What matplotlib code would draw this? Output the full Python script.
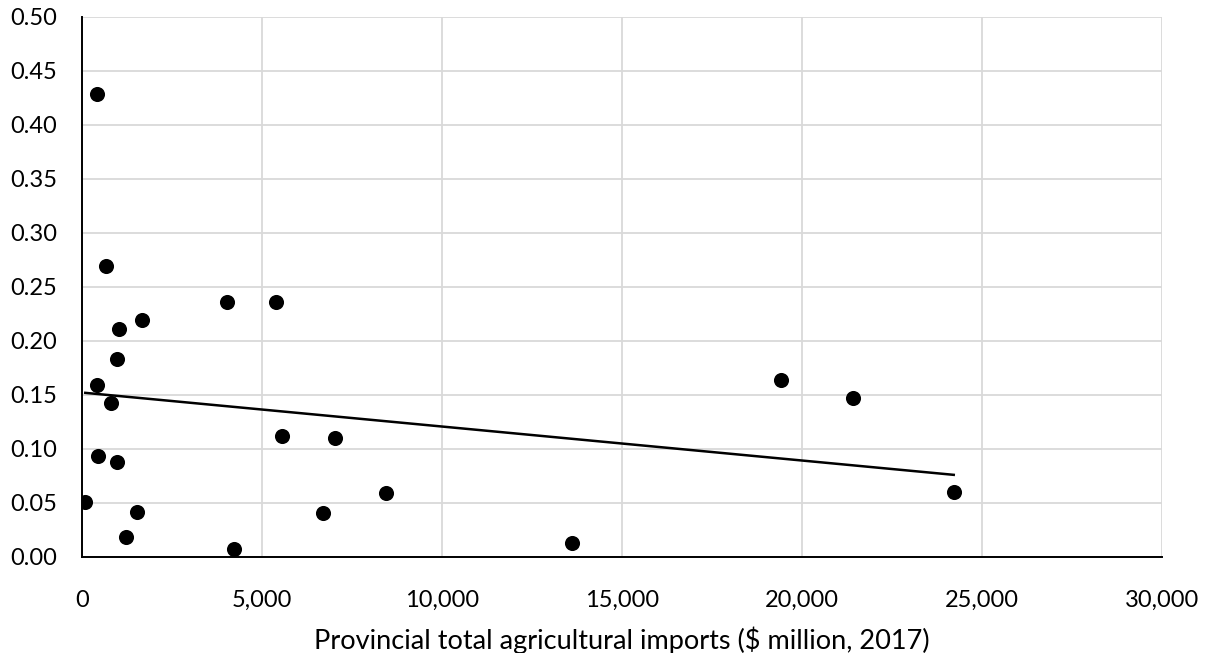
#!/usr/bin/env python3

import numpy as np
import matplotlib.pyplot as plt
from matplotlib.ticker import FuncFormatter, MultipleLocator

# values
imports = [400, 666, 1027, 1665, 963, 408, 788, 436, 964, 83, 1519, 1214,
           4023, 5375, 5556, 7011, 4222, 6686, 8436, 13603, 19408, 21397, 24206]
share = [0.428, 0.269, 0.211, 0.219, 0.183, 0.159, 0.142, 0.093, 0.088, 0.051,
         0.041, 0.018, 0.236, 0.236, 0.112, 0.110, 0.007, 0.040, 0.059, 0.013,
         0.164, 0.147, 0.060]
x_label = 'Provincial total agricultural imports ($ million, 2017)'

plt.rcParams['font.family'] = ['Lato', 'DejaVu Sans']

fig = plt.figure(figsize=(12.1, 6.53), dpi=100)
ax = fig.add_axes([0.068, 0.1475, 0.8926, 0.8269])

x = np.array(imports, dtype=float)
y = np.array(share, dtype=float)

# linear trendline over the data range, as the spreadsheet draws it
slope, intercept = np.polyfit(x, y, 1)
xs = np.array([x.min(), x.max()])
ax.plot(xs, slope * xs + intercept, color='black', lw=1.8, zorder=3)

ax.scatter(x, y, s=118, color='black', zorder=4, linewidths=0)

ax.set_xlim(0, 30000)
ax.set_ylim(0, 0.5)
ax.xaxis.set_major_locator(MultipleLocator(5000))
ax.yaxis.set_major_locator(MultipleLocator(0.05))
ax.xaxis.set_major_formatter(FuncFormatter(lambda v, p: '{:,.0f}'.format(v)))
ax.yaxis.set_major_formatter(FuncFormatter(lambda v, p: '{:.2f}'.format(v)))

ax.grid(True, color='#d9d9d9', lw=1.3, zorder=0)
ax.set_axisbelow(True)
for side in ['top', 'right']:
    ax.spines[side].set_visible(False)
for side in ['left', 'bottom']:
    ax.spines[side].set_linewidth(1.4)
    ax.spines[side].set_color('black')
    ax.spines[side].set_zorder(5)

ax.tick_params(axis='both', length=0, labelsize=17, colors='black')
ax.tick_params(axis='x', pad=24)
ax.tick_params(axis='y', pad=18)
ax.set_xlabel(x_label, fontsize=19.5, labelpad=11)

fig.savefig('out.png', dpi=100)
